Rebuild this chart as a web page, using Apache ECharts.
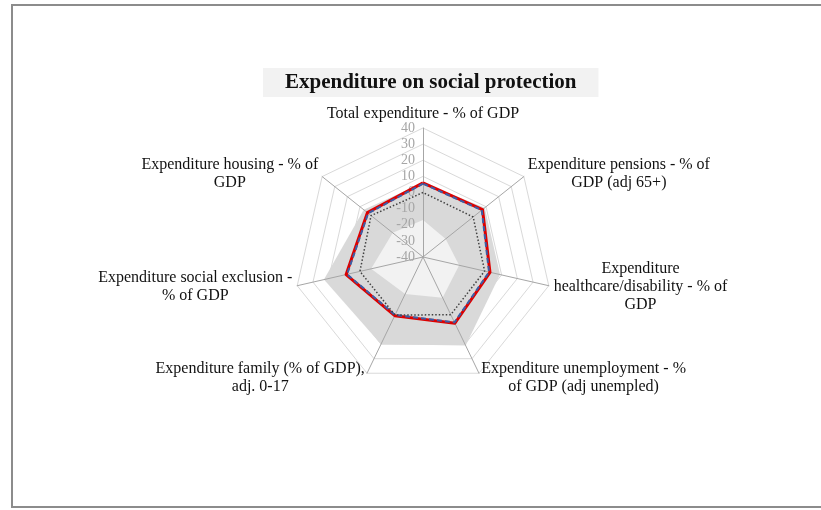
<!DOCTYPE html>
<html>
<head>
<meta charset="utf-8">
<script src="https://cdn.jsdelivr.net/npm/echarts@6/dist/echarts.min.js"></script>
<style>
html,body{margin:0;padding:0;background:#fff;}
#chart{width:821px;height:510px;}
</style>
</head>
<body>
<div id="chart"></div>
<script>
// Indicators in clockwise order starting at top
var categories = [
  "Total expenditure - % of GDP",
  "Expenditure pensions - % of\nGDP (adj 65+)",
  "Expenditure\nhealthcare/disability - % of\nGDP",
  "Expenditure unemployment - %\nof GDP (adj unempled)",
  "Expenditure family (% of GDP),\nadj. 0-17",
  "Expenditure social exclusion -\n% of GDP",
  "Expenditure housing - % of\nGDP"
];
var bandMax   = [6, 9, 9, 21, 20, 23, 7];
var bandMin   = [-17, -22, -17, -12, -14.5, -7, -16];
var redSeries = [6, 7.2, 2.6, 5.6, 0.4, 8.9, 4.1];
var blueSeries = [5.5, 6.6, 2.0, 5.0, -0.1, 8.3, 3.5];
var dotSeries = [0, -0.2, -0.8, -0.3, 0, 0.1, 1.2];
var tickMin = -40, tickMax = 40;

// ECharts places radar indicators counter-clockwise; reorder for clockwise display
var order = [0, 6, 5, 4, 3, 2, 1];
function reorder(arr){ return order.map(function(i){ return arr[i]; }); }

function makeIndicators(withLabel){
  return order.map(function(i, k){
    var ind = { name: categories[i], min: tickMin, max: tickMax };
    if (withLabel && k === 0) {
      ind.axisLabel = { show: true, color: '#a6a6a6', fontFamily: 'Liberation Serif', fontSize: 14, margin: 8 };
    }
    return ind;
  });
}

var chart = echarts.init(document.getElementById('chart'));
chart.setOption({
  animation: false,
  backgroundColor: '#ffffff',
  title: {
    text: 'Expenditure on social protection',
    left: 263, top: 68,
    padding: [4, 22, 4, 22],
    backgroundColor: '#f2f2f2',
    textStyle: { fontFamily: 'Liberation Serif', fontWeight: 'bold', fontSize: 21, color: '#111' }
  },
  graphic: [{
    type: 'rect', silent: true, z: -10,
    shape: { x: 12, y: 5, width: 830, height: 502 },
    style: { fill: 'none', stroke: '#8c8c8c', lineWidth: 2 }
  }],
  radar: [
    {
      // rings + names (below the fills)
      center: [423, 257],
      radius: 129,
      startAngle: 90,
      splitNumber: 8,
      shape: 'polygon',
      z: -1,
      indicator: makeIndicators(false),
      axisName: {
        color: '#111',
        fontFamily: 'Liberation Serif',
        fontSize: 16,
        formatter: function(v){
          return v.split('\n').map(function(s){ return '{c|' + s + '}'; }).join('\n');
        },
        rich: { c: { align: 'center', fontFamily: 'Liberation Serif', fontSize: 16, color: '#111', lineHeight: 18 } }
      },
      nameGap: 5,
      axisLine: { show: false },
      splitLine: { lineStyle: { color: '#d9d9d9', width: 1 } },
      splitArea: { show: false },
      axisLabel: { show: false },
      axisTick: { show: false }
    },
    {
      // spokes + tick labels (above the fills)
      center: [423, 257],
      radius: 129,
      startAngle: 90,
      splitNumber: 8,
      shape: 'polygon',
      z: 1,
      indicator: makeIndicators(true),
      axisName: { show: false },
      axisLine: { lineStyle: { color: '#a6a6a6', width: 1 } },
      splitLine: { show: false },
      splitArea: { show: false },
      axisLabel: { show: false },
      axisTick: { show: false }
    }
  ],
  series: [
    {
      type: 'radar', radarIndex: 0, z: 0, symbol: 'none', silent: true,
      data: [
        { value: reorder(bandMax), lineStyle: { width: 0, opacity: 0 }, areaStyle: { color: '#d9d9d9', opacity: 1 } },
        { value: reorder(bandMin), lineStyle: { width: 0, opacity: 0 }, areaStyle: { color: '#f2f2f2', opacity: 1 } }
      ]
    },
    {
      type: 'radar', radarIndex: 0, z: 2, symbol: 'none', silent: true,
      data: [
        { value: reorder(redSeries), lineStyle: { color: '#dd0000', width: 3, type: 'solid' } },
        { value: reorder(blueSeries), lineStyle: { color: '#3b5ea6', width: 2, type: [5, 3] } },
        { value: reorder(dotSeries), lineStyle: { color: '#404040', width: 1.5, type: [1.5, 2] } }
      ]
    }
  ]
});
</script>
</body>
</html>
